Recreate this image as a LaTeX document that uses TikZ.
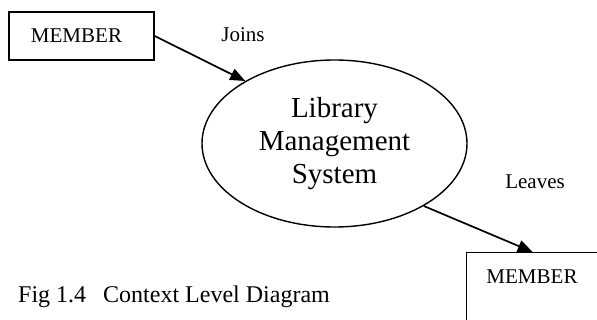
\documentclass[tikz,border=0pt]{standalone}
\usepackage{fontspec}
\setmainfont{Liberation Serif}
\usetikzlibrary{arrows.meta,shapes.geometric}

\tikzset{
  entity/.style={draw, line width=1.4pt, inner sep=0pt},
  process/.style={draw, ellipse, line width=1.4pt, inner sep=0pt,
    minimum width=265pt, minimum height=167pt, align=center,
    font=\fontsize{29pt}{33pt}\selectfont},
  small/.style={font=\fontsize{21pt}{25pt}\selectfont},
  flow/.style={line width=1.7pt, -{Triangle[length=15pt,width=12pt]}}
}

\begin{document}
\begin{tikzpicture}[x=1pt,y=-1pt]
  \useasboundingbox (0,0) rectangle (597,320);
  \clip (0,0) rectangle (597,320);

  % external entity on the left
  \node[entity, small, minimum width=145pt, minimum height=48pt] (m1) at (81.5,36)
    {MEMBER\hspace*{10pt}};

  % the system itself
  \node[process] (lms) at (334.5,143.5) {Library\\Management\\System};

  % external entity at the bottom right, running off the page
  \node[entity, minimum width=132pt, minimum height=90pt, anchor=north west] (m2) at (466,252) {};
  \node[small] (m2text) at (532,277) {MEMBER};

  % data flows
  \draw[flow] (m1.east) -- (lms.145.5);
  \draw[flow] (lms.325) -- (m2.north);

  % flow labels
  \node[small] (joins) at (243,35) {Joins};
  \node[small] (leaves) at (535,182) {Leaves};

  % caption
  \node[font=\fontsize{24pt}{28pt}\selectfont, anchor=base west, inner sep=0pt] (caption)
    at (18,302) {Fig 1.4\hspace{17pt}Context Level Diagram};
\end{tikzpicture}
\end{document}
